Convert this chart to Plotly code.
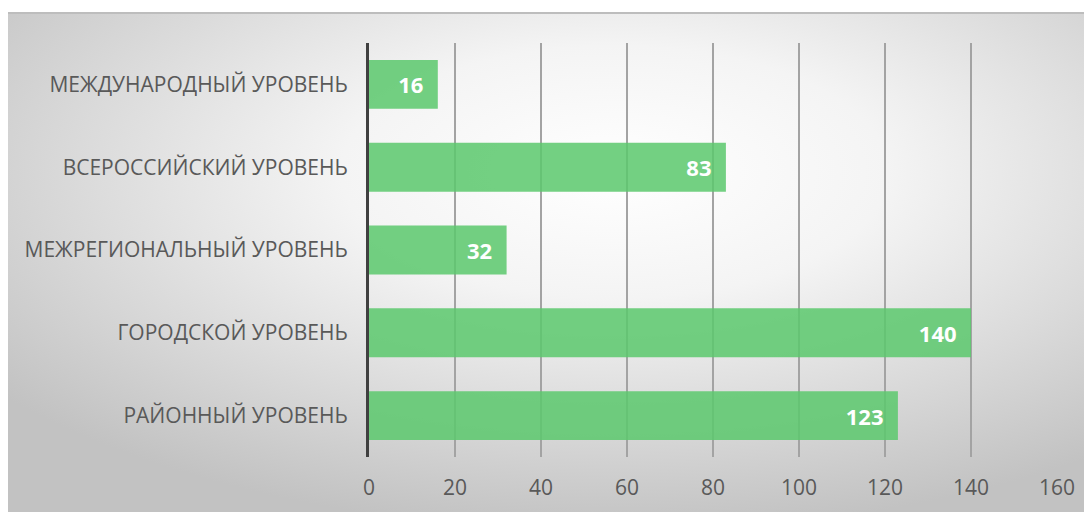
import plotly.graph_objects as go
import urllib.parse

categories = [
    "МЕЖДУНАРОДНЫЙ УРОВЕНЬ",
    "ВСЕРОССИЙСКИЙ УРОВЕНЬ",
    "МЕЖРЕГИОНАЛЬНЫЙ УРОВЕНЬ",
    "ГОРОДСКОЙ УРОВЕНЬ",
    "РАЙОННЫЙ УРОВЕНЬ",
]
values = [16, 83, 32, 140, 123]
x_ticks = [0, 20, 40, 60, 80, 100, 120, 140, 160]

# page body has an 8px margin: build the figure 8px smaller
OFF = 8
W, H = 1092 - OFF, 512 - OFF
L, R, T, B = 369 - OFF, 35, 43 - OFF, 55
pw, ph = W - L - R, H - T - B

FONT = "Open Sans"
TXT = "#595959"

svg = (
    "<svg xmlns='http://www.w3.org/2000/svg' width='1085' height='500' viewBox='0 0 1085 500' preserveAspectRatio='none'>"
    "<defs><radialGradient id='g' cx='0.56' cy='0.32' r='0.72' gradientUnits='objectBoundingBox'>"
    "<stop offset='0' stop-color='#ffffff'/>"
    "<stop offset='0.35' stop-color='#f4f4f4'/>"
    "<stop offset='1' stop-color='#c2c2c2'/>"
    "</radialGradient></defs>"
    "<rect x='0' y='0' width='1085' height='500' fill='url(#g)'/>"
    "<rect x='0' y='0' width='1085' height='2' fill='#bdbdbd'/>"
    "</svg>"
)
src = "data:image/svg+xml;charset=utf-8," + urllib.parse.quote(svg)

bx0, by0 = 7 - OFF, 12 - OFF
img_x = (bx0 - L) / pw
img_y = (H - B - by0) / ph
img_sx = (W - bx0) / pw
img_sy = (H - by0) / ph

fig = go.Figure()
fig.add_trace(go.Bar(
    y=categories,
    x=values,
    orientation="h",
    marker=dict(color="rgba(92,200,110,0.86)", line=dict(width=0)),
    width=0.59,
    text=values,
    texttemplate="%{x}\u00a0\u00a0",
    textposition="inside",
    insidetextanchor="end",
    textfont=dict(family=FONT, size=22, color="white", weight="bold"),
    hoverinfo="skip",
))

fig.update_layout(
    width=W, height=H,
    margin=dict(l=L, r=R, t=T, b=B, pad=0),
    paper_bgcolor="white",
    plot_bgcolor="rgba(0,0,0,0)",
    showlegend=False,
    images=[dict(
        source=src, xref="paper", yref="paper",
        x=img_x, y=img_y, sizex=img_sx, sizey=img_sy,
        xanchor="left", yanchor="top", sizing="stretch", layer="below",
    )],
    xaxis=dict(
        range=[0, 160], tickvals=x_ticks, showgrid=True,
        gridcolor="#a3a3a3", gridwidth=1.6, zeroline=False, showline=False,
        ticks="", ticklabelstandoff=16,
        tickfont=dict(family=FONT, size=21, color=TXT),
        fixedrange=True,
    ),
    yaxis=dict(
        autorange="reversed", showgrid=False, zeroline=False,
        showline=True, linecolor="#404040", linewidth=3,
        ticks="", ticklabelstandoff=14,
        tickfont=dict(family=FONT, size=21, color=TXT),
        fixedrange=True,
    ),
)

fig.write_html("out.html")
